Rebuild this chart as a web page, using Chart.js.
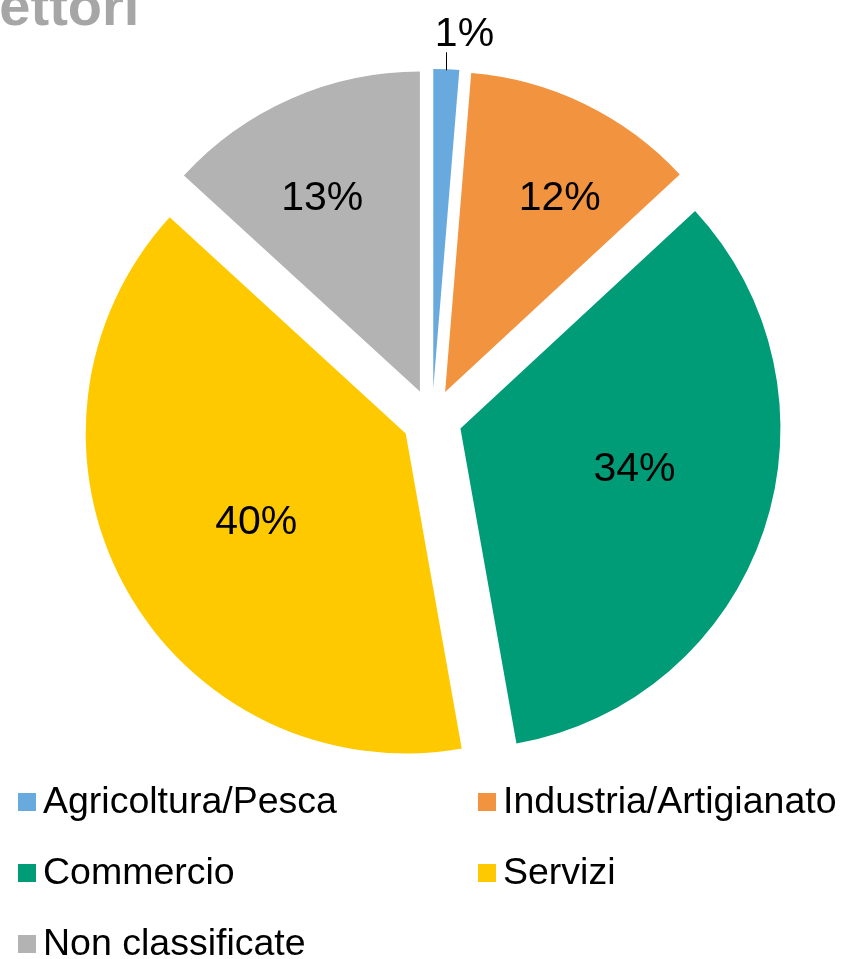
<!DOCTYPE html>
<html>

<head>
    <title>Settori</title>
    <script src="https://cdn.jsdelivr.net/npm/chart.js"></script>
    <style>
        body {
            margin: 0;
            padding: 0;
            background-color: #ffffff;
            font-family: "Liberation Sans", Arial, sans-serif;
        }

        .page {
            position: relative;
            width: 842px;
            height: 959px;
            overflow: hidden;
        }

        /* title is cut by the top/left edge, like in the original */
        .title {
            position: absolute;
            left: -38px;
            top: -22px;
            font-size: 56px;
            line-height: 56px;
            font-weight: bold;
            color: #a6a6a6;
            white-space: nowrap;
        }

        .chart-box {
            position: absolute;
            left: 0;
            top: 0;
            width: 842px;
            height: 780px;
        }

        .legend {
            position: absolute;
            left: 18px;
            top: 782px;
            width: 824px;
            display: grid;
            grid-template-columns: 460px auto;
            grid-auto-rows: 71px;
        }

        .legend-item {
            display: flex;
            align-items: center;
            height: 36px;
            font-size: 37.5px;
            line-height: 36px;
            color: #000;
            white-space: nowrap;
        }

        .legend-box {
            flex: none;
            width: 18px;
            height: 18px;
            margin-right: 7px;
            transform: translateY(2px);
        }
    </style>
</head>

<body>
    <div class="page">
        <div class="title">Settori</div>
        <div class="chart-box">
            <canvas id="pieChart" width="842" height="780"></canvas>
        </div>
        <div class="legend" id="legend"></div>
    </div>

    <script>
        // data (percent of total)
        const categories = ['Agricoltura/Pesca', 'Industria/Artigianato', 'Commercio', 'Servizi', 'Non classificate'];
        const shares = [1.3, 11.8, 34.1, 39.6, 13.2];
        const sliceColors = ['#69AADE', '#F29340', '#009B77', '#FFC900', '#B3B3B3'];

        const EXPLODE = 30;      // how far every slice is pulled out
        const LABEL_SIZE = 41;
        // small hand nudges so the labels sit where Excel put them
        const labelNudge = [[0, 0], [19, 0], [0, -21], [0, 4], [-10, 3]];

        // pull each slice out along its middle angle, keeping the radius as is
        const arcProto = Chart.elements.ArcElement.prototype;
        const baseArcDraw = arcProto.draw;
        arcProto.draw = function (ctx, area) {
            const mid = (this.startAngle + this.endAngle) / 2;
            ctx.save();
            ctx.translate(Math.cos(mid) * EXPLODE, Math.sin(mid) * EXPLODE);
            baseArcDraw.call(this, ctx, area);
            ctx.restore();
        };

        const total = shares.reduce(function (a, b) { return a + b; }, 0);

        // percent labels, the tiny slice gets an outside label with a leader line
        const sliceLabels = {
            id: 'sliceLabels',
            afterDatasetsDraw(chart) {
                const ctx = chart.ctx;
                const meta = chart.getDatasetMeta(0);
                ctx.save();
                ctx.font = LABEL_SIZE + 'px "Liberation Sans", Arial, sans-serif';
                ctx.fillStyle = '#000';
                ctx.strokeStyle = '#000';
                ctx.lineWidth = 1;
                ctx.textAlign = 'center';
                ctx.textBaseline = 'alphabetic';
                const lift = 0.358 * LABEL_SIZE;

                meta.data.forEach(function (arc, i) {
                    const p = arc.getProps(['x', 'y', 'startAngle', 'endAngle', 'outerRadius'], true);
                    const mid = (p.startAngle + p.endAngle) / 2;
                    const cx = p.x + Math.cos(mid) * EXPLODE;
                    const cy = p.y + Math.sin(mid) * EXPLODE;
                    const text = Math.round(shares[i] / total * 100) + '%';

                    if (shares[i] / total < 0.05) {
                        const px = Math.round(cx + Math.cos(mid) * p.outerRadius) + 0.5;
                        const py = cy + Math.sin(mid) * p.outerRadius;
                        ctx.beginPath();
                        ctx.moveTo(px, py + 1);
                        ctx.lineTo(px, py - 17);
                        ctx.stroke();
                        ctx.fillText(text, px + 18, py - 38 + lift);
                    } else {
                        const half = (p.endAngle - p.startAngle) / 2;
                        const d = (2 / 3) * p.outerRadius * Math.sin(half) / half * 1.05;
                        const lx = cx + Math.cos(mid) * d + labelNudge[i][0];
                        const ly = cy + Math.sin(mid) * d + labelNudge[i][1];
                        ctx.fillText(text, lx, ly + lift);
                    }
                });
                ctx.restore();
            }
        };

        const ctx = document.getElementById('pieChart').getContext('2d');
        const pieChart = new Chart(ctx, {
            type: 'pie',
            data: {
                labels: categories,
                datasets: [{
                    data: shares,
                    backgroundColor: sliceColors,
                    borderWidth: 0,
                    radius: 320
                }]
            },
            options: {
                responsive: false,
                animation: false,
                events: [],
                layout: {
                    padding: { top: 84, bottom: 26, left: 22, right: 0 }
                },
                plugins: {
                    legend: { display: false },
                    tooltip: { enabled: false },
                    title: { display: false }
                }
            },
            plugins: [sliceLabels]
        });

        // legend in two columns under the pie
        const legendEl = document.getElementById('legend');
        categories.forEach(function (name, i) {
            const item = document.createElement('div');
            item.className = 'legend-item';
            const box = document.createElement('span');
            box.className = 'legend-box';
            box.style.backgroundColor = sliceColors[i];
            const label = document.createElement('span');
            label.textContent = name;
            item.appendChild(box);
            item.appendChild(label);
            legendEl.appendChild(item);
        });
    </script>
</body>

</html>
